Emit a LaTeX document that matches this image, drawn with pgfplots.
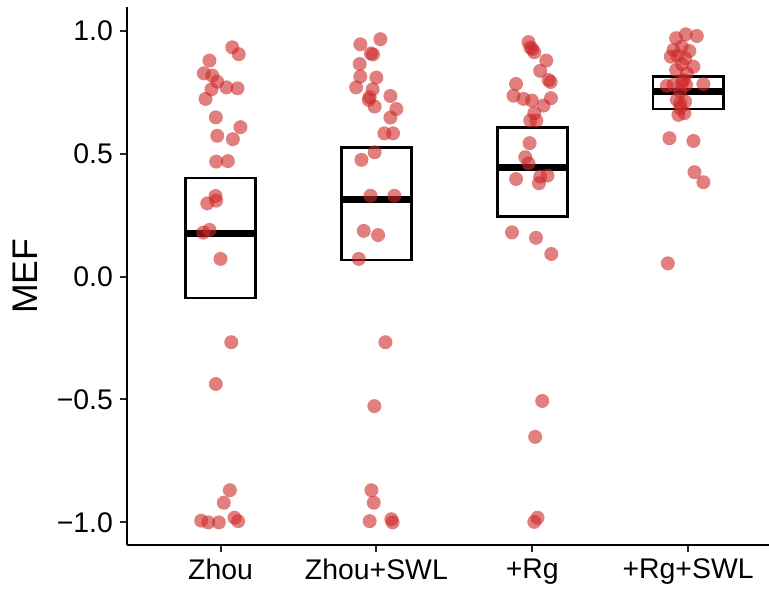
\documentclass[border=0pt]{standalone}
\usepackage{fontspec}
\setmainfont{Liberation Sans}
\usepackage{pgfplots}
\pgfplotsset{compat=1.18}
\definecolor{ptred}{RGB}{205,40,40}
\pgfplotsset{pts/.style={ptred, only marks, mark=*, mark size=3.5pt, mark options={draw opacity=0, draw=ptred, fill=ptred, fill opacity=0.6, line width=0pt}}}
\begin{document}
\begin{tikzpicture}
\useasboundingbox (-63.5pt,-23.5pt) rectangle (321pt,272.5pt);
\begin{axis}[
  at={(0,0)}, anchor=south west,
  scale only axis, width=321pt, height=268.75pt,
  xmin=0.4, xmax=4.519, ymin=-1.092, ymax=1.095,
  axis x line*=bottom, axis y line*=left,
  axis line style={line width=1pt,-},
  xtick={1,2,3,4}, xticklabels={Zhou,Zhou+SWL,+Rg,+Rg+SWL},
  ytick={-1,-0.5,0,0.5,1}, yticklabels={−1.0,−0.5,0.0,0.5,1.0},
  xtick pos=lower, ytick pos=left,
  tick align=outside, major tick length=3.5pt,
  tick style={line width=1pt,color=black!85},
  ticklabel style={font=\fontsize{14.2}{17}\selectfont},
  /pgf/number format/assume math mode=true,
]
\addplot[pts] table {
x y
1.075 0.933
1.117 0.905
0.929 0.879
0.893 0.827
0.947 0.818
0.979 0.793
0.942 0.762
1.038 0.770
1.109 0.766
0.904 0.723
0.970 0.648
1.128 0.608
0.979 0.573
1.079 0.559
0.972 0.468
1.047 0.470
0.968 0.328
0.972 0.309
0.915 0.298
0.929 0.190
0.889 0.179
1.000 0.072
1.069 -0.267
0.970 -0.437
1.060 -0.869
1.021 -0.920
0.876 -0.993
0.921 -1.000
0.989 -1.000
1.090 -0.981
1.113 -0.995
};
\addplot[pts] table {
x y
2.026 0.966
1.897 0.945
1.965 0.908
1.978 0.904
1.893 0.865
1.897 0.814
2.000 0.810
1.870 0.770
1.976 0.762
1.957 0.730
1.951 0.719
2.090 0.735
1.989 0.692
2.128 0.682
2.090 0.647
2.051 0.583
2.107 0.583
1.989 0.506
1.904 0.475
1.962 0.329
2.115 0.329
1.919 0.186
2.011 0.169
1.887 0.072
2.058 -0.267
1.987 -0.527
1.968 -0.869
1.983 -0.920
1.957 -0.995
2.096 -0.987
2.104 -1.000
};
\addplot[pts] table {
x y
2.976 0.954
2.988 0.932
3.000 0.926
3.013 0.913
3.090 0.879
3.051 0.837
3.105 0.800
3.118 0.792
2.896 0.784
2.880 0.736
2.944 0.723
2.998 0.716
3.120 0.726
3.072 0.696
3.013 0.665
2.987 0.635
3.026 0.635
2.983 0.543
2.955 0.486
2.976 0.461
2.896 0.397
3.051 0.407
3.098 0.411
3.043 0.380
2.870 0.180
3.024 0.158
3.122 0.092
3.064 -0.506
3.019 -0.652
3.034 -0.981
3.013 -0.998
};
\addplot[pts] table {
x y
3.985 0.986
4.056 0.979
3.923 0.970
3.960 0.936
3.906 0.922
4.008 0.918
3.889 0.895
3.931 0.899
3.981 0.888
3.960 0.864
4.034 0.854
3.923 0.841
3.992 0.827
3.970 0.800
3.863 0.776
3.906 0.780
3.960 0.787
3.987 0.780
4.098 0.783
3.949 0.753
3.928 0.719
3.981 0.712
3.949 0.705
3.949 0.685
3.938 0.658
3.976 0.665
3.880 0.563
4.034 0.552
4.041 0.425
4.098 0.384
3.870 0.054
};
% boxes
\addplot[black, line width=1.35pt, mark=none] coordinates {(0.775,-0.087) (1.225,-0.087) (1.225,0.401) (0.775,0.401)} --cycle;
\addplot[black, line width=1.35pt, mark=none] coordinates {(1.775,0.068) (2.225,0.068) (2.225,0.526) (1.775,0.526)} --cycle;
\addplot[black, line width=1.35pt, mark=none] coordinates {(2.775,0.244) (3.225,0.244) (3.225,0.606) (2.775,0.606)} --cycle;
\addplot[black, line width=1.35pt, mark=none] coordinates {(3.775,0.682) (4.225,0.682) (4.225,0.814) (3.775,0.814)} --cycle;
% medians
\addplot[black, line width=3.5pt, mark=none] coordinates {(0.775,0.177) (1.225,0.177)};
\addplot[black, line width=3.5pt, mark=none] coordinates {(1.775,0.312) (2.225,0.312)};
\addplot[black, line width=3.5pt, mark=none] coordinates {(2.775,0.443) (3.225,0.443)};
\addplot[black, line width=3.5pt, mark=none] coordinates {(3.775,0.753) (4.225,0.753)};
\end{axis}
\node[rotate=90, font=\fontsize{17.8}{20}\selectfont] at (-51pt,134.4pt) {MEF};
\end{tikzpicture}
\end{document}
